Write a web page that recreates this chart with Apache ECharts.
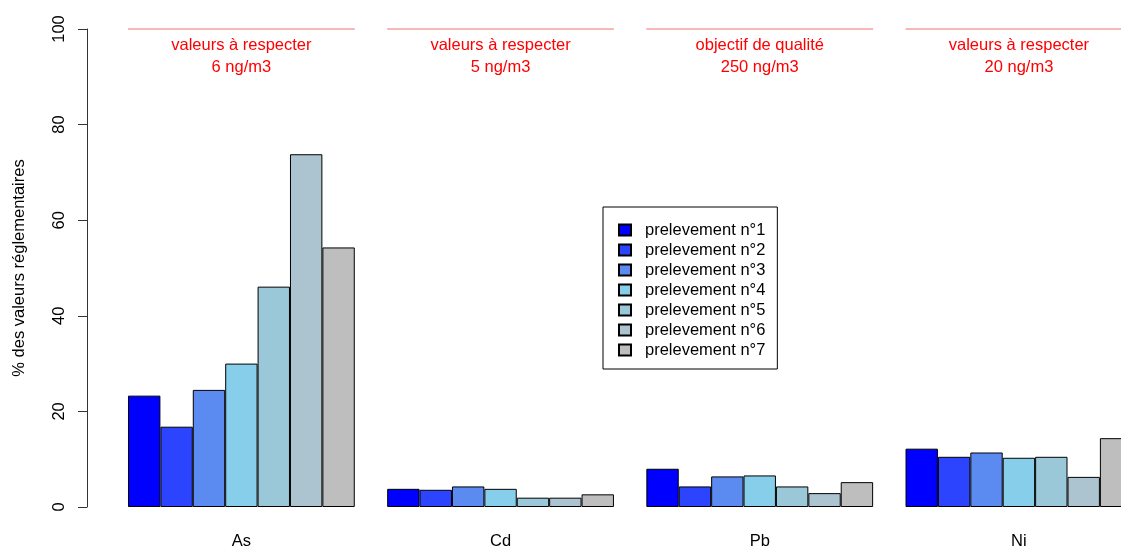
<!DOCTYPE html>
<html>
<head>
<meta charset="utf-8">
<script src="https://cdn.jsdelivr.net/npm/echarts@6/dist/echarts.min.js"></script>
<style>
  html, body { margin: 0; padding: 0; background: #fff; }
  #chart { width: 1121px; height: 548px; }
</style>
</head>
<body>
<div id="chart"></div>
<script>
// Pollutants (categories)
const polluants = ['As', 'Cd', 'Pb', 'Ni'];

// % of regulatory value for each sampling campaign
const prelevement1 = [23.3, 3.8, 8.0, 12.2];
const prelevement2 = [16.8, 3.6, 4.3, 10.5];
const prelevement3 = [24.5, 4.3, 6.4, 11.4];
const prelevement4 = [30.0, 3.8, 6.6, 10.3];
const prelevement5 = [46.1, 1.95, 4.3, 10.5];
const prelevement6 = [73.8, 1.95, 2.9, 6.3];
const prelevement7 = [54.3, 2.65, 5.2, 14.4];

const seriesNames = ['prelevement n°1', 'prelevement n°2', 'prelevement n°3', 'prelevement n°4',
                     'prelevement n°5', 'prelevement n°6', 'prelevement n°7'];
const seriesColors = ['#0000FF', '#2D44FF', '#5B8AF0', '#87CEEB', '#9AC8D9', '#ABC4CF', '#BEBEBE'];

// Reference threshold texts, one per pollutant
const seuilTitres = ['valeurs à respecter', 'valeurs à respecter', 'objectif de qualité', 'valeurs à respecter'];
const seuilValeurs = ['6 ng/m3', '5 ng/m3', '250 ng/m3', '20 ng/m3'];
const seuilPourcent = [100, 100, 100, 100];

const yTicks = [0, 20, 40, 60, 80, 100];

const FONT = '"Liberation Sans", Arial, sans-serif';
const FS = 16.5;

const allValues = [prelevement1, prelevement2, prelevement3, prelevement4, prelevement5, prelevement6, prelevement7];

const barSeries = allValues.map((vals, i) => ({
  name: seriesNames[i],
  type: 'bar',
  data: vals,
  barGap: 0,
  barCategoryGap: '12.5%',
  itemStyle: { color: seriesColors[i], borderColor: '#000', borderWidth: 1 },
  emphasis: { disabled: true },
  animation: false
}));

// Threshold line plus caption above each group of bars
const seuilSeries = {
  type: 'custom',
  name: 'seuils',
  silent: true,
  animation: false,
  clip: false,
  z: 5,
  data: polluants.map((p, i) => [i, seuilPourcent[i]]),
  renderItem: function (params, api) {
    const idx = api.value(0);
    const pt = api.coord([idx, api.value(1)]);
    const band = api.size([1, 0])[0];
    const half = band * 0.875 / 2;
    return {
      type: 'group',
      children: [
        {
          type: 'line',
          shape: { x1: pt[0] - half, y1: pt[1], x2: pt[0] + half, y2: pt[1] },
          style: { stroke: '#F07070', lineWidth: 1 }
        },
        {
          type: 'text',
          style: {
            x: pt[0], y: pt[1] + 16, text: seuilTitres[idx],
            fill: '#FF0000', font: FS + 'px ' + FONT,
            textAlign: 'center', textVerticalAlign: 'middle'
          }
        },
        {
          type: 'text',
          style: {
            x: pt[0], y: pt[1] + 38, text: seuilValeurs[idx],
            fill: '#FF0000', font: FS + 'px ' + FONT,
            textAlign: 'center', textVerticalAlign: 'middle'
          }
        }
      ]
    };
  }
};

const chart = echarts.init(document.getElementById('chart'), null, { renderer: 'canvas' });
chart.setOption({
  backgroundColor: '#fff',
  animation: false,
  textStyle: { fontFamily: FONT },
  grid: { left: 111.8, right: -27.5, top: 29, bottom: 41, containLabel: false, outerBoundsMode: 'none' },
  legend: {
    data: seriesNames,
    orient: 'vertical',
    left: 603,
    top: 207,
    icon: 'rect',
    itemWidth: 12,
    itemHeight: 11,
    itemGap: 0,
    padding: [13, 12, 9, 15],
    borderColor: '#000',
    borderWidth: 1,
    borderRadius: 0,
    selectedMode: false,
    textStyle: { fontSize: FS, color: '#000', fontFamily: FONT, lineHeight: 20, padding: [0, 0, 0, 9] }
  },
  xAxis: {
    type: 'category',
    data: polluants,
    axisLine: { show: false },
    axisTick: { show: false },
    axisLabel: { fontSize: FS, color: '#000', margin: 26, fontFamily: FONT },
    splitLine: { show: false }
  },
  yAxis: {
    type: 'value',
    min: yTicks[0],
    max: yTicks[yTicks.length - 1],
    interval: yTicks[1] - yTicks[0],
    offset: 24.8,
    name: '% des valeurs réglementaires',
    nameLocation: 'middle',
    nameRotate: 90,
    nameGap: 59,
    nameTextStyle: { fontSize: FS, color: '#000', fontFamily: FONT },
    axisLine: { show: true, lineStyle: { color: '#333', width: 1 } },
    axisTick: { show: true, length: 9, lineStyle: { color: '#333', width: 1 } },
    axisLabel: { rotate: 90, fontSize: FS, color: '#000', margin: 19, fontFamily: FONT },
    splitLine: { show: false }
  },
  series: barSeries.concat([seuilSeries])
});
</script>
</body>
</html>
